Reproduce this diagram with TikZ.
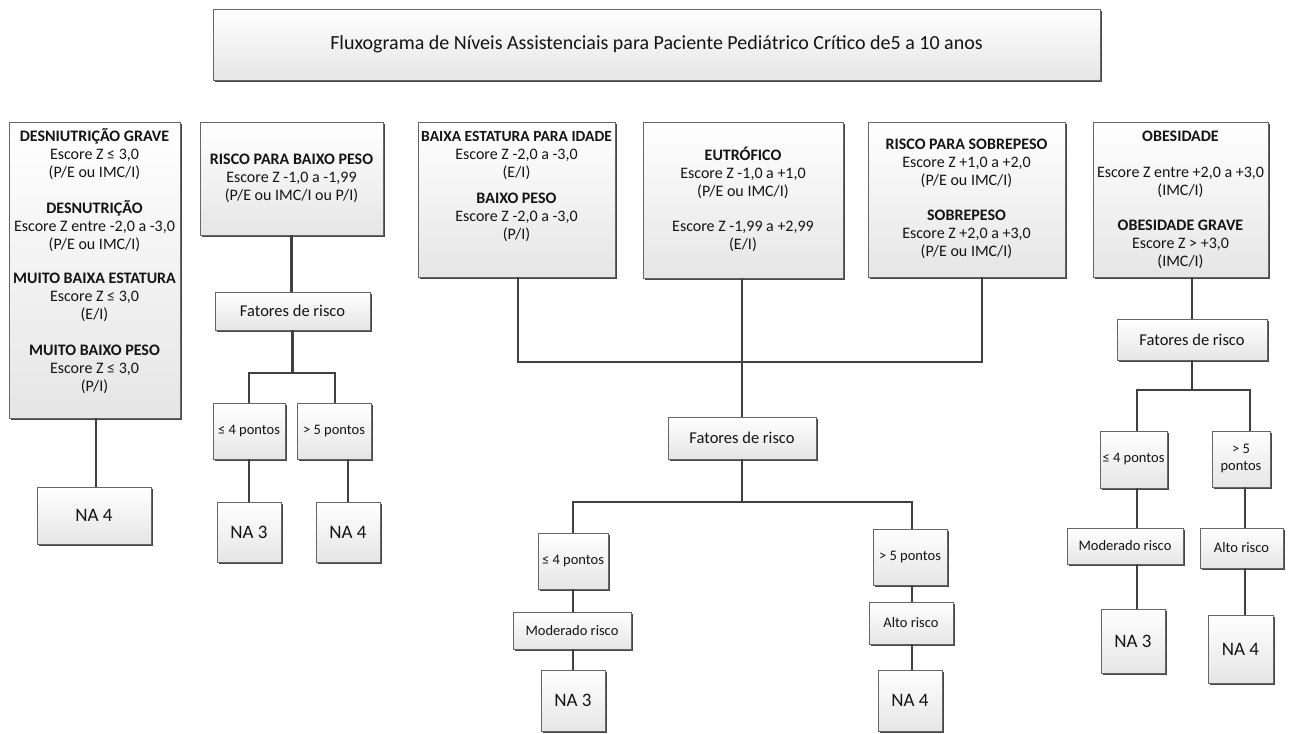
\documentclass[tikz,border=0pt]{standalone}
\usepackage{fontspec}
\setmainfont{Carlito}
\usetikzlibrary{shadows}
\tikzset{
  bx/.style={draw=black!60, line width=0.6pt, top color=white, bottom color=black!10,
    inner sep=0pt, text=black!92, align=center,
    drop shadow={shadow xshift=2.4pt, shadow yshift=-2.4pt, fill=black!72, opacity=1}},
  txtblk/.style={inner sep=0pt, text=black!92, align=center, font=\fontsize{16}{18}\selectfont},
  small/.style={font=\fontsize{14.5}{17}\selectfont},
  fat/.style={font=\fontsize{16.5}{19}\selectfont},
  na/.style={font=\fontsize{19}{22}\selectfont},
  conn/.style={line width=2.9pt, draw=black!75, line join=miter},
}
\newcommand\rbox[7]{\node[bx,#6, minimum width={(#4-#2)*1pt}, minimum height={(#5-#3)*1pt}] (#1) at ({(#2+#4)/2},{(#3+#5)/2}) {#7};}
\begin{document}
\begin{tikzpicture}[x=1pt,y=-1pt]
\useasboundingbox (0,0) rectangle (1294,734);
% title
\rbox{title}{213}{9}{1100}{80}{font=\fontsize{20}{24}\selectfont}{Fluxograma de Níveis Assistenciais para Paciente Pediátrico Crítico de5 a 10 anos}
% group 1
\rbox{b1}{9}{122}{180}{418}{}{}
\node[txtblk, anchor=north] (b1t) at ([yshift=-6.4pt]b1.north) {\strut\textbf{DESNIUTRIÇÃO GRAVE}\\ Escore Z ≤ 3,0\\ (P/E ou IMC/I)\\[18pt]
 \textbf{DESNUTRIÇÃO}\\ Escore Z entre -2,0 a -3,0\\ (P/E ou IMC/I)\\[16pt]
 \textbf{MUITO BAIXA ESTATURA}\\ Escore Z ≤ 3,0\\ (E/I)\\[18pt]
 \textbf{MUITO BAIXO PESO}\\ Escore Z ≤ 3,0\\ (P/I)};
\rbox{na1}{37}{487}{151}{544}{na}{NA 4}
% group 2
\rbox{b2}{200}{122}{383}{235}{}{}
\node[txtblk, anchor=north] (b2t) at ([yshift=-30.4pt]b2.north) {\strut\textbf{RISCO PARA BAIXO PESO}\\ Escore Z -1,0 a -1,99\\ (P/E ou IMC/I ou P/I)};
\rbox{f1}{215}{292}{370}{330}{fat}{Fatores de risco}
\rbox{p1}{213}{403}{285}{459}{small}{≤ 4 pontos}
\rbox{p2}{297}{403}{371}{459}{small}{> 5 pontos}
\rbox{n1}{217}{502}{281}{562}{na}{NA 3}
\rbox{n2}{316}{502}{380}{562}{na}{NA 4}
% group 3
\rbox{b3}{418}{122}{615}{277}{}{}
\node[txtblk, anchor=north] (b3t) at ([yshift=-7.4pt]b3.north) {\strut{\fontsize{15.5}{18}\selectfont\textbf{BAIXA ESTATURA PARA IDADE}}\\ Escore Z -2,0 a -3,0\\ (E/I)\\[8pt]
 \textbf{BAIXO PESO}\\ Escore Z -2,0 a -3,0\\ (P/I)};
\rbox{b4}{643}{122}{843}{278}{}{}
\node[txtblk, anchor=north] (b4t) at ([yshift=-25.4pt]b4.north) {\strut\textbf{EUTRÓFICO}\\ Escore Z -1,0 a +1,0\\ (P/E ou IMC/I)\\[17pt]
 Escore Z -1,99 a +2,99\\ (E/I)};
\rbox{b5}{868}{122}{1065}{277}{}{}
\node[txtblk, anchor=north] (b5t) at ([yshift=-15.4pt]b5.north) {\strut\textbf{RISCO PARA SOBREPESO}\\ Escore Z +1,0 a +2,0\\ (P/E ou IMC/I)\\[17pt]
 \textbf{SOBREPESO}\\ Escore Z +2,0 a +3,0\\ (P/E ou IMC/I)};
\rbox{f2}{668}{417}{816}{459}{fat}{Fatores de risco}
\rbox{p3}{538}{533}{608}{589}{small}{≤ 4 pontos}
\rbox{p4}{873}{529}{947}{585}{small}{> 5 pontos}
\rbox{m1}{513}{612}{631}{649}{small}{Moderado risco}
\rbox{a1}{869}{602}{953}{644}{small}{Alto risco}
\rbox{n3}{541}{670}{605}{731}{na}{NA 3}
\rbox{n4}{878}{670}{942}{731}{na}{NA 4}
% group 4
\rbox{b6}{1093}{122}{1268}{277}{}{}
\node[txtblk, anchor=north] (b6t) at ([yshift=-7.4pt]b6.north) {\strut\textbf{OBESIDADE}\\[18pt]
 Escore Z entre +2,0 a +3,0\\ (IMC/I)\\[17pt]
 \textbf{OBESIDADE GRAVE}\\ Escore Z > +3,0\\ (IMC/I)};
\rbox{f3}{1117}{319}{1267}{360}{fat}{Fatores de risco}
\rbox{p5}{1100}{431}{1167}{488}{small}{≤ 4 pontos}
\rbox{p6}{1212}{431}{1270}{487}{small}{> 5\\ pontos}
\rbox{m2}{1067}{528}{1183}{564}{small}{Moderado risco}
\rbox{a2}{1200}{528}{1283}{568}{small}{Alto risco}
\rbox{n5}{1101}{609}{1165}{673}{na}{NA 3}
\rbox{n6}{1208}{615}{1273}{683}{na}{NA 4}
% junctions
\coordinate (j1) at (292,373);
\coordinate (j2) at (742,362);
\coordinate (j3) at (742,502);
\coordinate (j4) at (1192,390);
% connectors group 1
\draw[conn] ([xshift=1.5pt]b1.south) -- ([xshift=1.5pt]b1.south |- na1.north);
% group 2
\draw[conn] (b2.south) -- (b2.south |- f1.north);
\draw[conn] (f1.south) -- (f1.south |- j1);
\draw[conn] (p1.north) |- ([xshift=1pt]p2.north |- j1) -- ([xshift=1pt]p2.north);
\draw[conn] (p1.south) -- (p1.south |- n1.north);
\draw[conn] (n2.north |- p2.south) -- (n2.north);
% group 3
\draw[conn] ([xshift=1.5pt]b3.south) |- ([xshift=15.5pt]b5.south |- j2) -- ([xshift=15.5pt]b5.south);
\draw[conn] (f2.north |- b4.south) -- (f2.north);
\draw[conn] (f2.south) -- (f2.south |- j3);
\draw[conn] (p3.north) |- ([xshift=2pt]p4.north |- j3) -- ([xshift=2pt]p4.north);
\draw[conn] (p3.south) -- (p3.south |- m1.north);
\draw[conn] (p3.south |- m1.south) -- (p3.south |- n3.north);
\draw[conn] ([xshift=2pt]p4.south) -- ([xshift=2pt]p4.south |- a1.north);
\draw[conn] ([xshift=2pt]p4.south |- a1.south) -- ([xshift=2pt]p4.south |- n4.north);
% group 4
\draw[conn] (f3.north |- b6.south) -- (f3.north);
\draw[conn] (f3.south) -- (f3.south |- j4);
\draw[conn] ([xshift=3.5pt]p5.north) |- ([xshift=9pt]p6.north |- j4) -- ([xshift=9pt]p6.north);
\draw[conn] ([xshift=3.5pt]p5.south) -- ([xshift=3.5pt]p5.south |- m2.north);
\draw[conn] ([xshift=3.5pt]p5.south |- m2.south) -- ([xshift=3.5pt]p5.south |- n5.north);
\draw[conn] ([xshift=4pt]p6.south) -- ([xshift=4pt]p6.south |- a2.north);
\draw[conn] ([xshift=4pt]p6.south |- a2.south) -- ([xshift=4pt]p6.south |- n6.north);
\end{tikzpicture}
\end{document}
